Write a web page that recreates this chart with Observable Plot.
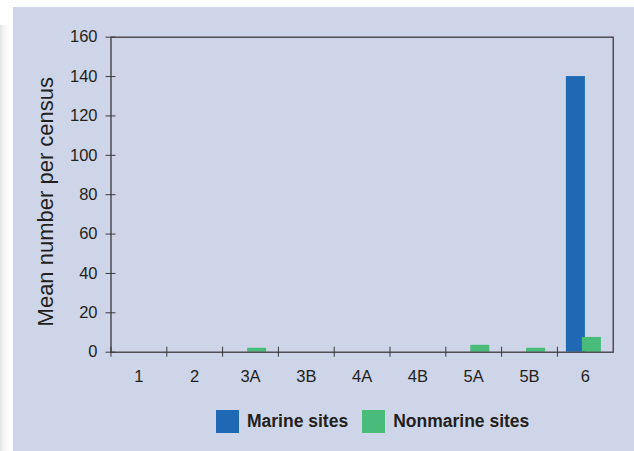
<!DOCTYPE html>
<html><head><meta charset="utf-8">
<script src="https://cdn.jsdelivr.net/npm/d3@7"></script>
<script src="https://cdn.jsdelivr.net/npm/@observablehq/plot@0.6"></script>
<style>
html,body{margin:0;padding:0;background:#fff;width:634px;height:451px;overflow:hidden;font-family:"Liberation Sans",Arial,sans-serif;}
#strip{position:absolute;left:0;top:25px;width:13px;height:426px;background:linear-gradient(to right,#e4e4e4 0px,#f6f6f6 4px,#ffffff 10px);}
#panel{position:absolute;left:13px;top:7px;width:621px;height:444px;background:#cfd5e9;}
#chart svg{display:block;}
#legend{display:flex;align-items:center;margin-left:203px;margin-top:8px;height:23px;font-weight:bold;font-size:17.5px;color:#231f20;}
.sw{width:23px;height:23px;margin-right:8px;flex:none;}
.lab{margin-right:14px;white-space:nowrap;}
</style></head><body>
<div id="strip"></div>
<div id="panel"><div id="chart"></div><div id="legend"></div></div>
<script>
const sites = ["1","2","3A","3B","4A","4B","5A","5B","6"];
const marine = [0,0,0,0,0,0,0,0,140];
const nonmarine = [0,0,2,0,0,0,3.5,2,7.5];
const yTicks = [0,20,40,60,80,100,120,140,160];
const seriesNames = ["Marine sites","Nonmarine sites"];
const colors = ["#1f68b3","#4abc7a"];
const yTitle = "Mean number per census";

const W=621,H=395,mL=97.5,mR=21.3,mT=29.7,mB=50.3;
const bw=(W-mL-mR)/sites.length;
const rows = sites.map((s,i)=>({site:s, marine:marine[i], nonmarine:nonmarine[i]}));
const ink="#231f20", axisInk="#3a3a3c";

const plot = Plot.plot({
  width:W,height:H,marginLeft:mL,marginRight:mR,marginTop:mT,marginBottom:mB,
  style:{background:"transparent",fontFamily:"Liberation Sans, Arial, sans-serif",fontSize:"16px",color:ink},
  x:{type:"band",domain:sites,paddingInner:0,paddingOuter:0,round:false},
  y:{domain:[0,160]},
  marks:[
    Plot.barY(rows,{x:"site",y:"marine",fill:colors[0],insetLeft:9,insetRight:27.8}),
    Plot.barY(rows,{x:"site",y:"nonmarine",fill:colors[1],insetLeft:25,insetRight:11.8}),
    Plot.frame({stroke:axisInk,strokeWidth:1.3}),
    Plot.axisY({ticks:yTicks,tickSize:10,dx:5,tickFormat:()=>"",stroke:axisInk,label:null}),
    Plot.axisY({ticks:yTicks,tickSize:0,tickPadding:13.5,fontSize:16.5,label:null}),
    Plot.axisX({tickSize:10,dy:-5,dx:-bw/2,tickFormat:()=>"",stroke:axisInk,label:null}),
    Plot.axisX({tickSize:0,tickPadding:18.5,fontSize:16.5,label:null}),
    Plot.text([yTitle],{frameAnchor:"left",textAnchor:"middle",rotate:-90,dx:-65.5,dy:7,fontSize:22,fill:ink})
  ]
});
document.getElementById("chart").appendChild(plot);

const lg=document.getElementById("legend");
seriesNames.forEach((n,i)=>{
  const sw=document.createElement("div");sw.className="sw";sw.style.background=colors[i];
  const t=document.createElement("span");t.className="lab";t.textContent=n;
  lg.appendChild(sw);lg.appendChild(t);
});
</script>
</body></html>
